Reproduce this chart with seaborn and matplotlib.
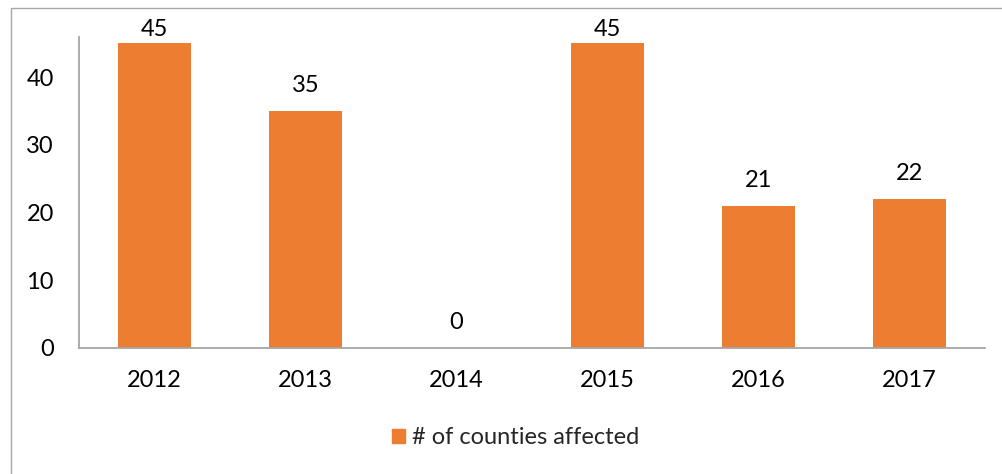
import matplotlib
matplotlib.use("Agg")
import matplotlib.pyplot as plt
import matplotlib.patches as mpatches
import seaborn as sns
import pandas as pd

years = ["2012", "2013", "2014", "2015", "2016", "2017"]
counties = [45, 35, 0, 45, 21, 22]
series_name = "# of counties affected"
y_ticks = [0, 10, 20, 30, 40]

BAR = "#ED7D31"
SPINE = "#A6A6A6"
TXT = "#000000"

sns.set_theme(style="white")
plt.rcParams["font.family"] = ["Lato", "DejaVu Sans"]
FS = 17

W, H = 1002, 474
fig = plt.figure(figsize=(W / 100, H / 100), dpi=100)
fig.patch.set_facecolor("white")

# outer chart border (extends beyond right/bottom edge as in reference)
border = mpatches.Rectangle((10.5 / W, -0.1), 1.2, 1 - 7.5 / H + 0.1,
                            transform=fig.transFigure, fill=False,
                            edgecolor="#A6A6A6", linewidth=1.0)
fig.patches.append(border)

left, right, bottom, top = 79 / W, 985 / W, 348 / H, 37 / H
ax = fig.add_axes([left, 1 - bottom, right - left, bottom - top])

df = pd.DataFrame({"year": years, "value": counties, "series": series_name})
sns.barplot(data=df, x="year", y="value", color=BAR, width=0.48,
            saturation=1, ax=ax, edgecolor="none")

ymax = (348 - 37) / 6.77
ax.set_ylim(0, ymax)
ax.set_xlim(-0.5, len(years) - 0.5)
ax.set_yticks(y_ticks)
ax.set_xlabel("")
ax.set_ylabel("")
ax.tick_params(axis="both", length=0, labelsize=FS, colors=TXT)
ax.tick_params(axis="y", pad=18)
ax.tick_params(axis="x", pad=16)
for s in ["top", "right"]:
    ax.spines[s].set_visible(False)
for s in ["left", "bottom"]:
    ax.spines[s].set_color(SPINE)
    ax.spines[s].set_linewidth(1.3)
ax.grid(False)
ax.set_facecolor("white")

# value labels above bars, kept inside the chart area like the original
px_per_unit = (348 - 37) / ymax
for i, v in enumerate(counties):
    top_px = 348 - v * px_per_unit  # bar top in pixels
    gap_px = 15
    text_h = 18
    if top_px - gap_px - text_h < 22:
        gap_px = max(top_px - text_h - 22, 3)
    ax.annotate(str(v), (i, v), xytext=(0, gap_px * 0.72),
                textcoords="offset points", ha="center", va="bottom",
                fontsize=FS, color=TXT, annotation_clip=False)

handle = mpatches.Patch(color=BAR, label=series_name)
fig.legend(handles=[handle], loc="center", bbox_to_anchor=(516 / W, 1 - 438 / H),
           frameon=False, fontsize=FS, handlelength=0.55, handleheight=0.55,
           handletextpad=0.3)

fig.savefig("out.png", dpi=100, facecolor="white")
